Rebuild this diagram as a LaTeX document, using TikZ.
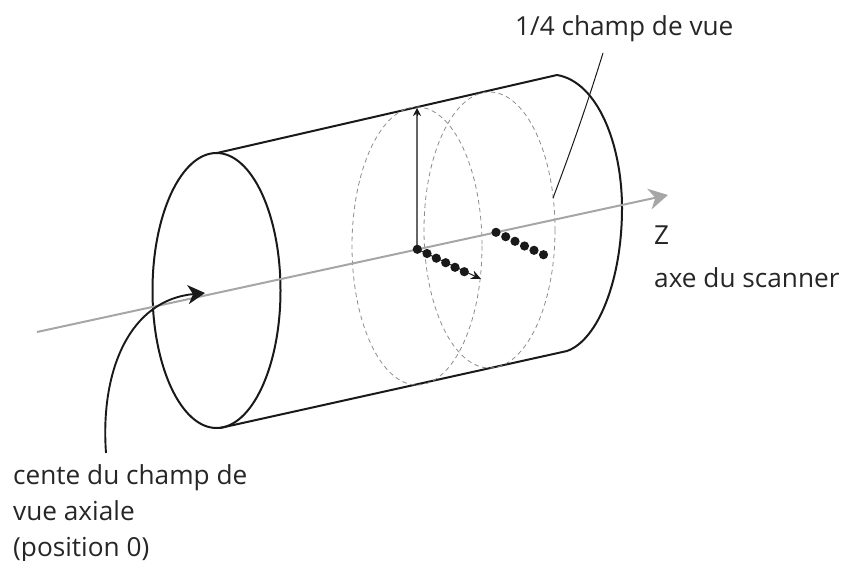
\documentclass[tikz,border=0pt]{standalone}
\usepackage{fontspec}
\setmainfont{Open Sans}
\usetikzlibrary{arrows.meta}
\newcommand{\pointe}[2]{%
  \fill[black!90] (#1,#2) circle (4.6);}
\tikzset{
  contour/.style={line width=2pt, black!90},
  pointille/.style={line width=0.8pt, black!45, dash pattern=on 4.5pt off 3.5pt},
  legende/.style={font=\fontsize{26.2}{36}\selectfont, text=black!85, anchor=west, inner sep=0pt, align=left},
}
\begin{document}
\begin{tikzpicture}[x=1pt, y=-1pt]
\useasboundingbox (0,0) rectangle (845,561);

% ---- Cylinder ----
\coordinate (hautg) at (217,153);
\coordinate (hautd) at (557,75);
\coordinate (basg) at (220,428);
\coordinate (basd) at (567,351);
\draw[contour] (216.5,290.5) ellipse [x radius=64, y radius=137.5];
\draw[contour] (hautg) -- (hautd);
\draw[contour] (basg) -- (basd);
\draw[contour] (hautd) .. controls (598,82) and (622,145) .. (622,208)
  .. controls (622,280) and (598,340) .. (basd);

% ---- Planes of the field of view ----
\draw[pointille] (417,246) ellipse [x radius=65, y radius=139];
\draw[pointille] (489.5,230) ellipse [x radius=65.5, y radius=138];

% ---- Scanner axis ----
\coordinate (axedeb) at (37,332);
\coordinate (axefin) at (668,195);
\draw[line width=2pt, black!35, -{Stealth[length=19pt, width=21pt, inset=6pt]}] (axedeb) -- (axefin);

% ---- Arrows from the centre ----
\coordinate (centre) at (417,249);
\coordinate (sommet) at (417,108);
\coordinate (radial) at (481,279);
\draw[line width=1.6pt, black!60] (centre) -- (417,114);
\draw[line width=0.6pt, black!90, -{Stealth[length=8pt, width=8pt]}] (417,116) -- (sommet);
\draw[line width=1pt, black!90, -{Stealth[length=10pt, width=9pt]}] (centre) -- (radial);

% ---- Dots ----
\pointe{417.3}{249.3}
\pointe{427}{253.5}
\pointe{436.3}{258.2}
\pointe{445.7}{262.7}
\pointe{455}{267.3}
\pointe{464.3}{271.7}
\pointe{496}{232.3}
\pointe{505.7}{236.7}
\pointe{515}{241.3}
\pointe{524.5}{246}
\pointe{534}{250.3}
\pointe{543.5}{254.7}

% ---- Labels ----
\node[legende] (quart) at (515,29) {1/4 champ de vue};
\node[legende] (axez) at (654,235) {Z};
\node[legende] (scanner) at (654,278) {axe du scanner};
\node[legende, anchor=north west] (centrelab) at (13,464) {cente du champ de\\vue axiale\\(position 0)};

% ---- Leader lines ----
\coordinate (quartpied) at (553,198);
\coordinate (quarthaut) at (603,53);
\coordinate (fleched) at (106,453);
\coordinate (flechef) at (205,293);
\draw[line width=1pt, black!90] (quarthaut) .. controls (590,95) and (575,140) .. (quartpied);
\draw[line width=1.9pt, black!90, -{Stealth[length=17pt, width=19pt, inset=5pt]}] (fleched)
  .. controls (100,370) and (130,300) .. (flechef);

\end{tikzpicture}
\end{document}
